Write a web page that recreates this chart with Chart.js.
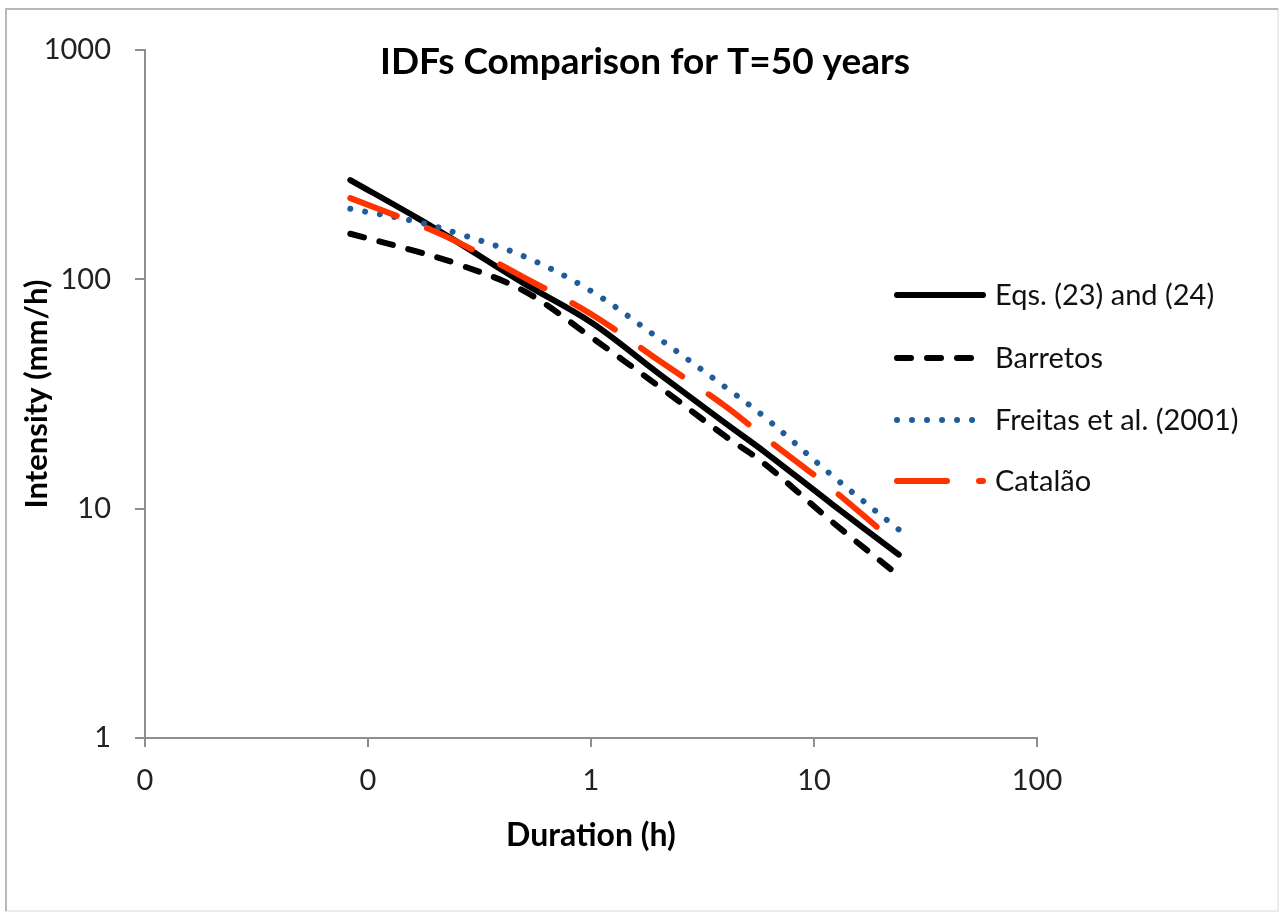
<!DOCTYPE html>
<html>
<head>
<meta charset="utf-8">
<script src="https://cdn.jsdelivr.net/npm/chart.js@4.4.1/dist/chart.umd.min.js"></script>
<style>
  html, body { margin: 0; padding: 0; background: #fff; }
  #wrap { position: relative; width: 1280px; height: 912px; }
</style>
</head>
<body>
<div id="wrap"><canvas id="idf"></canvas></div>
<script>
// durations in hours (5 min ... 24 h)
const durations = [0.0833, 0.1667, 0.25, 0.5, 1, 2, 4, 6, 12, 24];

// intensities in mm/h
const eqs      = [271, 185, 146, 96, 65, 39, 23.6, 17.7, 10.5, 6.3];
const barretos = [158, 132, 117, 89, 56, 34.3, 20.7, 15.7, 8.8, 5.1];
const freitas  = [203, 178, 159, 126, 89, 55.5, 33.9, 25.1, 14.0, 8.1];
const catalao  = [226, 174, 146, 102, 70.6, 44.5, 28.0, 20.5, 12.2, 6.9];

const seriesNames = ["Eqs. (23) and (24)", "Barretos", "Freitas et al. (2001)", "Catalão"];

const xTickValues = [0.01, 0.1, 1, 10, 100];
const xTickLabels = ["0", "0", "1", "10", "100"];
const yTickValues = [1, 10, 100, 1000];
const yTickLabels = ["1", "10", "100", "1000"];

const FONT = "Lato, 'Open Sans', sans-serif";
const AXIS_GRAY = "#8e8e8e";

function toPoints(values) {
    return durations.map((d, i) => ({ x: d, y: values[i] }));
}

function lineDataset(label, values, color, dash, order) {
    return {
        label: label,
        data: toPoints(values),
        borderColor: color,
        backgroundColor: color,
        borderWidth: 6,
        borderDash: dash,
        borderCapStyle: "round",
        borderJoinStyle: "round",
        pointRadius: 0,
        tension: 0.35,
        fill: false,
        order: order
    };
}

const frame = {
    id: "frame",
    beforeDraw(chart) {
        const ctx = chart.ctx;
        ctx.save();
        ctx.lineWidth = 2;
        ctx.strokeStyle = "#ececec";
        ctx.strokeRect(6, 9, 1272, 902);
        ctx.strokeStyle = "#b8b8b8";
        ctx.beginPath();
        ctx.moveTo(6, 911);
        ctx.lineTo(6, 9);
        ctx.lineTo(1278, 9);
        ctx.stroke();
        ctx.restore();
    }
};

const titleAndLegend = {
    id: "titleAndLegend",
    afterDraw(chart) {
        const ctx = chart.ctx;
        ctx.save();
        ctx.fillStyle = "#000";
        ctx.font = "bold 37px " + FONT;
        ctx.textAlign = "center";
        ctx.textBaseline = "middle";
        ctx.fillText("IDFs Comparison for T=50 years", 645, 62);

        const rows = [295, 358, 420, 481];
        ctx.font = "29px " + FONT;
        ctx.textAlign = "left";
        chart.data.datasets.forEach((ds, i) => {
            const y = rows[i];
            ctx.save();
            ctx.strokeStyle = ds.borderColor;
            ctx.lineWidth = ds.borderWidth;
            ctx.lineCap = "round";
            ctx.setLineDash(ds.borderDash || []);
            ctx.beginPath();
            ctx.moveTo(897, y);
            ctx.lineTo(983, y);
            ctx.stroke();
            ctx.restore();
            ctx.fillStyle = "#111";
            ctx.fillText(ds.label, 995, y + 1);
        });
        ctx.restore();
    }
};

new Chart(document.getElementById("idf"), {
    type: "line",
    data: {
        datasets: [
            lineDataset(seriesNames[0], eqs, "#000000", [], 4),
            lineDataset(seriesNames[1], barretos, "#000000", [14, 16], 3),
            lineDataset(seriesNames[2], freitas, "#1f5c99", [0.01, 15], 2),
            lineDataset(seriesNames[3], catalao, "#ff3300", [50, 32], 1)
        ]
    },
    options: {
        responsive: true,
        maintainAspectRatio: false,
        animation: false,
        layout: { padding: { left: 0, top: 50, right: 243, bottom: 0 } },
        plugins: {
            legend: { display: false },
            title: { display: false },
            tooltip: { enabled: false }
        },
        scales: {
            x: {
                type: "logarithmic",
                min: 0.01,
                max: 100,
                afterBuildTicks: (scale) => { scale.ticks = xTickValues.map(v => ({ value: v })); },
                afterFit: (scale) => { scale.height = 174; },
                grid: { drawOnChartArea: false, drawTicks: true, tickLength: 9, color: AXIS_GRAY, lineWidth: 2 },
                border: { color: AXIS_GRAY, width: 2 },
                ticks: {
                    autoSkip: false,
                    maxRotation: 0,
                    padding: 16,
                    color: "#222",
                    font: { family: FONT, size: 29 },
                    callback: (value) => xTickLabels[xTickValues.indexOf(value)] ?? ""
                },
                title: {
                    display: true,
                    text: "Duration (h)",
                    color: "#000",
                    font: { family: FONT, size: 32, weight: "bold" },
                    padding: { top: 0, bottom: 57 }
                }
            },
            y: {
                type: "logarithmic",
                min: 1,
                max: 1000,
                afterBuildTicks: (scale) => { scale.ticks = yTickValues.map(v => ({ value: v })); },
                afterFit: (scale) => { scale.width = 145; },
                grid: { drawOnChartArea: false, drawTicks: true, tickLength: 10, color: AXIS_GRAY, lineWidth: 2 },
                border: { color: AXIS_GRAY, width: 2 },
                ticks: {
                    autoSkip: false,
                    padding: 24,
                    color: "#222",
                    font: { family: FONT, size: 29 },
                    callback: (value) => yTickLabels[yTickValues.indexOf(value)] ?? ""
                },
                title: {
                    display: true,
                    text: "Intensity (mm/h)",
                    color: "#000",
                    font: { family: FONT, size: 31, weight: "bold" },
                    padding: { top: 18, bottom: 0 }
                }
            }
        }
    },
    plugins: [frame, titleAndLegend]
});
</script>
</body>
</html>
